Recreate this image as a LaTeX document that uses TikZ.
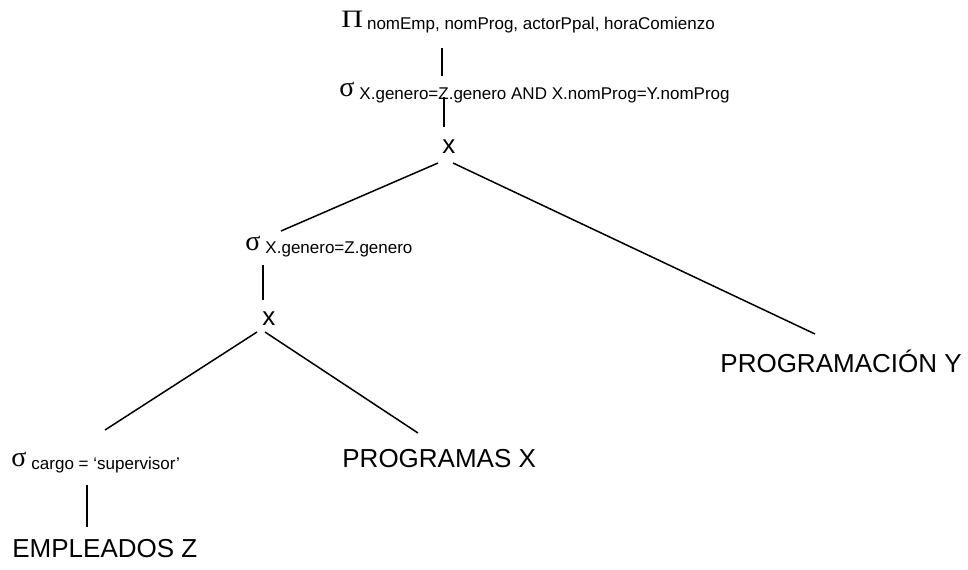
\documentclass[tikz,border=0pt]{standalone}
\usepackage{graphicx}
\usepackage{fontspec}
\setmainfont{Liberation Sans}
\newfontfamily\greekfont{Liberation Serif}
\newcommand{\sigmaop}{{\greekfont\fontsize{14pt}{14pt}\selectfont σ}}
\newcommand{\piop}{{\greekfont\fontsize{12.5pt}{12.5pt}\selectfont\scalebox{1.2}[1]{Π}}}
\newcommand{\subcond}[2]{\raisebox{-#1}{\fontsize{8.5pt}{8.5pt}\selectfont #2}}
\tikzset{
  rel/.style={inner sep=0pt,anchor=base west,font=\fontsize{13pt}{13pt}\selectfont},
  opnode/.style={inner sep=0pt,anchor=base west},
  edge/.style={line width=0.75pt}
}
\begin{document}
\begin{tikzpicture}[x=0.5pt,y=-0.5pt]
	\useasboundingbox (0,0) rectangle (968,569); % one unit is one pixel of the page
	
	\node[opnode] (proj) at (341,27) {\piop\hspace{2pt}\subcond{1.2pt}{nomEmp, nomProg, actorPpal, horaComienzo}};
	\node[opnode] (selone) at (339,96) {\sigmaop\hspace{2.5pt}\subcond{1.5pt}{X.genero=Z.genero AND X.nomProg=Y.nomProg}};
	\node[rel] (crossone) at (442,153) {x};
	\node[opnode] (seltwo) at (245,250) {\sigmaop\hspace{2.5pt}\subcond{1.5pt}{X.genero=Z.genero}};
	\node[rel] (crosstwo) at (262,325) {x};
	\node[opnode] (selthree) at (11,466) {\sigmaop\hspace{2.5pt}\subcond{1.5pt}{cargo = ‘supervisor’}};
	% leaves of the tree
	\node[rel] (empleados) at (12,557) {EMPLEADOS Z};
	\node[rel] (programas) at (342,467) {PROGRAMAS X};
	\node[rel] (programacion) at (720,372) {PROGRAMACIÓN Y};
	
	\draw[edge] ([shift={(101,21)}]proj.base west) -- ([shift={(103,-20)}]selone.base west);
	\draw[edge] ([shift={(105,1)}]selone.base west) -- ([shift={(2,-26)}]crossone.base west);
	\draw[edge] ([shift={(-4,10)}]crossone.base west) -- ([shift={(36,-19)}]seltwo.base west);
	\draw[edge] ([shift={(11,10)}]crossone.base west) -- ([shift={(95,-38)}]programacion.base west);
	\draw[edge] ([shift={(18,15)}]seltwo.base west) -- ([shift={(1,-25)}]crosstwo.base west);
	\draw[edge] ([shift={(-5,7)}]crosstwo.base west) -- ([shift={(94,-36)}]selthree.base west);
	\draw[edge] ([shift={(3,7)}]crosstwo.base west) -- ([shift={(76,-34)}]programas.base west);
	\draw[edge] ([shift={(76,19)}]selthree.base west) -- ([shift={(75,-30)}]empleados.base west);
	
\end{tikzpicture}
\end{document}
